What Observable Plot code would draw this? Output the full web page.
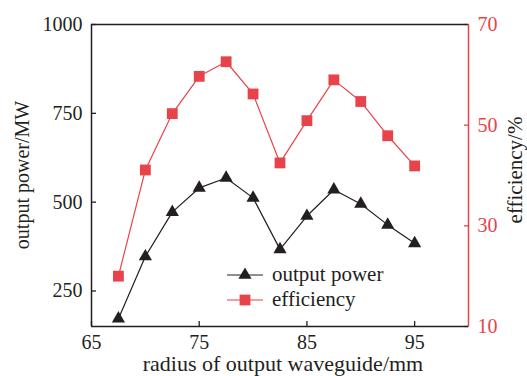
<!DOCTYPE html>
<html>
<head>
<meta charset="utf-8">
<script src="https://cdn.jsdelivr.net/npm/d3@7"></script>
<script src="https://cdn.jsdelivr.net/npm/@observablehq/plot@0.6"></script>
<style>
  html, body { margin: 0; padding: 0; background: #fff; }
  #chart { position: relative; width: 527px; height: 376px; }
</style>
</head>
<body>
<div id="chart"></div>
<script>
// ---- data ----
const radius = [67.5, 70, 72.5, 75, 77.5, 80, 82.5, 85, 87.5, 90, 92.5, 95];
const outputPower = [172, 347, 472, 540, 568, 512, 367, 461, 535, 495, 436, 384];
const efficiency = [20.0, 41.1, 52.3, 59.7, 62.6, 56.2, 42.5, 50.9, 59.0, 54.7, 47.9, 41.9];
const xTicks = [65, 75, 85, 95];
const powerTicks = [250, 500, 750, 1000];
const effTicks = [10, 30, 50, 70];
const seriesNames = ["output power", "efficiency"];

const xDomain = [65, 100];
const powerDomain = [150, 1000];
const effDomain = [10, 70];

const RED = "#e8434b";
const INK = "#231f20";
const FONT = "'Liberation Serif', serif";

// map efficiency onto the power (primary y) scale
const toP = d3.scaleLinear().domain(effDomain).range(powerDomain);

const powerData = radius.map((r, i) => ({r, v: outputPower[i]}));
const effData = radius.map((r, i) => ({r, v: toP(efficiency[i])}));

const W = 527, H = 376;
const mL = 91, mR = 59, mT = 24, mB = 50;

const plot = Plot.plot({
  width: W, height: H,
  marginLeft: mL, marginRight: mR, marginTop: mT, marginBottom: mB,
  style: {fontFamily: FONT, fontSize: "20px", color: INK, background: "white", overflow: "visible"},
  x: {domain: xDomain},
  y: {domain: powerDomain},
  marks: [
    Plot.axisX(xTicks, {tickSize: -5, tickPadding: 13, label: null, fontSize: 20, stroke: INK, fill: INK, strokeWidth: 1.3,
      tickFormat: d => String(d)}),
    Plot.axisY(powerTicks, {anchor: "left", tickSize: -5, tickPadding: 14, label: null, fontSize: 20, stroke: INK, fill: INK, strokeWidth: 1.3,
      tickFormat: d => String(d)}),
    Plot.axisY(effTicks.map(toP), {anchor: "right", tickSize: -5, tickPadding: 14, label: null, fontSize: 20,
      tickFormat: d => String(Math.round(toP.invert(d))), stroke: RED, fill: RED, strokeWidth: 1.3}),
    Plot.ruleY([powerDomain[1]], {stroke: INK, strokeWidth: 1.5}),
    Plot.ruleY([powerDomain[0]], {stroke: INK, strokeWidth: 1.5}),
    Plot.ruleX([xDomain[0]], {stroke: INK, strokeWidth: 1.5}),
    Plot.ruleX([xDomain[1]], {stroke: RED, strokeWidth: 1.5}),
    Plot.line(effData, {x: "r", y: "v", stroke: RED, strokeWidth: 1.2}),
    Plot.line(powerData, {x: "r", y: "v", stroke: INK, strokeWidth: 1.2}),
    Plot.dot(effData, {x: "r", y: "v", symbol: "square", r: 6.1, fill: RED, stroke: null}),
    Plot.dot(powerData, {x: "r", y: "v", symbol: "triangle", r: 4.9, fill: INK, stroke: null})
  ]
});

document.getElementById("chart").appendChild(plot);

// axis titles and legend
const svg = d3.select(plot);
svg.append("text")
  .attr("x", 283).attr("y", 371)
  .attr("text-anchor", "middle")
  .attr("font-family", FONT).attr("font-size", 22).attr("fill", INK)
  .text("radius of output waveguide/mm");
svg.append("text")
  .attr("transform", "translate(29,175) rotate(-90)")
  .attr("text-anchor", "middle")
  .attr("font-family", FONT).attr("font-size", 20).attr("fill", INK)
  .text("output power/MW");
svg.append("text")
  .attr("transform", "translate(522,170) rotate(-90)")
  .attr("text-anchor", "middle")
  .attr("font-family", FONT).attr("font-size", 21).attr("fill", INK)
  .text("efficiency/%");

const legend = svg.append("g");
const rows = [
  {name: seriesNames[0], color: INK, sym: d3.symbolTriangle, size: Math.PI * 4.9 * 4.9, y: 275},
  {name: seriesNames[1], color: RED, sym: d3.symbolSquare, size: Math.PI * 6.1 * 6.1, y: 300}
];
rows.forEach(row => {
  legend.append("line").attr("x1", 227).attr("x2", 263).attr("y1", row.y).attr("y2", row.y)
    .attr("stroke", row.color).attr("stroke-width", 1.2);
  legend.append("path").attr("d", d3.symbol(row.sym, row.size)())
    .attr("transform", `translate(245,${row.y})`).attr("fill", row.color);
  legend.append("text").attr("x", 272).attr("y", row.y + 6)
    .attr("text-anchor", "start")
    .attr("font-family", FONT).attr("font-size", 21).attr("fill", INK)
    .text(row.name);
});
</script>
</body>
</html>
